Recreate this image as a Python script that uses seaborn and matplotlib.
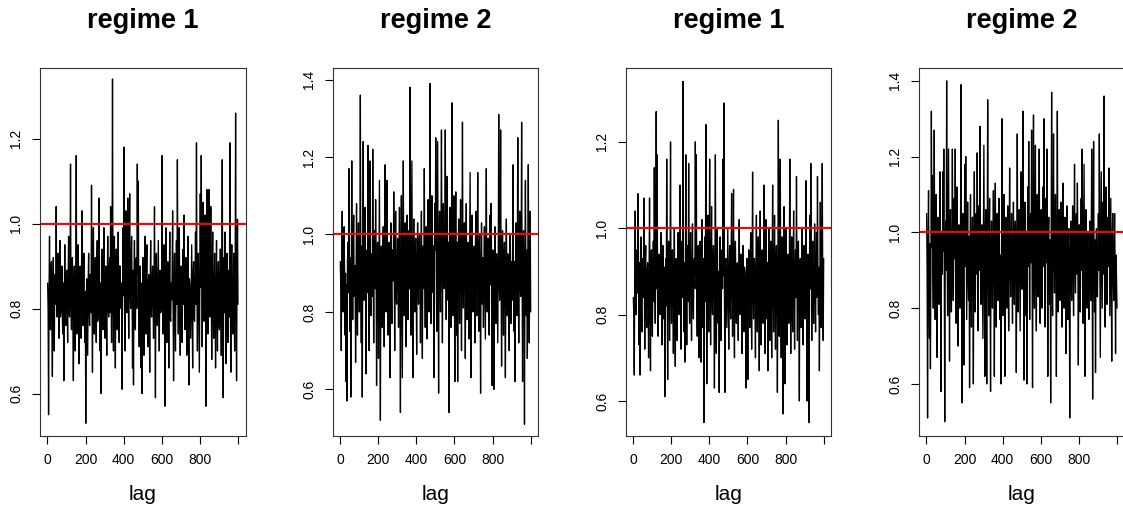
import numpy as np
import matplotlib
matplotlib.use("Agg")
import matplotlib.pyplot as plt
import seaborn as sns

# ---- data (~2.5 lags per value) ----
titles = ["regime 1", "regime 2", "regime 1", "regime 2"]

series_1 = [
    0.86, 0.80, 0.55, 0.84, 0.97, 0.78, 0.75, 0.88, 0.91, 0.77, 0.64, 0.85, 0.92, 0.79, 0.70, 0.87, 0.88, 0.81, 1.04, 0.83,
    0.78, 0.86, 0.93, 0.80, 0.73, 0.89, 0.96, 0.78, 0.80, 0.84, 0.90, 0.77, 0.74, 0.86, 0.63, 0.82, 0.95, 0.79, 0.76, 0.88,
    0.89, 0.80, 0.72, 0.87, 0.97, 0.79, 0.78, 0.85, 1.14, 0.81, 0.75, 0.88, 0.92, 0.77, 0.63, 0.84, 0.90, 0.78, 0.70, 0.86,
    1.16, 0.79, 0.74, 0.89, 0.95, 0.80, 0.67, 0.83, 0.90, 0.76, 0.73, 0.87, 1.03, 0.81, 0.76, 0.85, 0.93, 0.78, 0.72, 0.84,
    0.53, 0.82, 0.87, 0.77, 0.69, 0.86, 0.93, 0.80, 0.76, 0.88, 0.88, 0.79, 1.09, 0.83, 0.65, 0.87, 0.99, 0.78, 0.74, 0.85,
    0.92, 0.80, 0.72, 0.88, 0.96, 0.77, 0.79, 0.84, 1.06, 0.81, 0.70, 0.86, 0.60, 0.83, 0.94, 0.78, 0.75, 0.89, 0.99, 0.80,
    0.73, 0.86, 0.90, 0.78, 0.69, 0.85, 0.97, 0.81, 0.78, 0.88, 0.92, 0.79, 1.04, 0.84, 0.72, 0.87, 1.34, 0.82, 0.70, 0.86,
    0.97, 0.80, 0.66, 0.89, 0.94, 0.79, 0.75, 0.87, 0.98, 0.82, 0.72, 0.90, 0.90, 0.81, 0.80, 0.86, 0.61, 0.84, 0.99, 0.83,
    1.18, 0.85, 0.70, 0.92, 1.03, 0.83, 0.79, 0.90, 1.06, 0.86, 0.73, 0.93, 1.07, 0.84, 0.80, 0.91, 0.97, 0.85, 0.66, 0.89,
    0.62, 0.87, 0.96, 0.82, 0.75, 0.90, 0.92, 0.80, 1.14, 0.88, 1.10, 0.83, 0.71, 0.89, 0.90, 0.79, 0.66, 0.86, 0.60, 0.84,
    0.92, 0.80, 0.69, 0.87, 0.97, 0.81, 0.74, 0.88, 0.95, 0.78, 0.71, 0.86, 0.88, 0.80, 0.65, 0.85, 0.96, 0.79, 0.78, 0.87,
    0.90, 0.81, 0.73, 0.86, 1.04, 0.80, 0.59, 0.88, 0.93, 0.78, 0.76, 0.85, 0.96, 0.82, 0.70, 0.87, 0.89, 0.79, 0.80, 0.84,
    1.16, 0.83, 0.74, 0.88, 0.95, 0.80, 0.57, 0.86, 0.99, 0.79, 0.72, 0.87, 0.91, 0.81, 0.66, 0.85, 0.98, 0.78, 0.77, 0.86,
    0.82, 0.88, 1.03, 0.80, 0.63, 0.84, 0.93, 0.79, 0.70, 0.87, 0.96, 0.81, 1.15, 0.85, 0.74, 0.88, 0.99, 0.80, 0.69, 0.84,
    0.90, 0.79, 0.72, 0.86, 0.94, 0.81, 1.02, 0.84, 0.75, 0.88, 0.92, 0.78, 0.69, 0.85, 0.97, 0.80, 0.62, 0.87, 0.86, 0.79,
    0.73, 0.85, 0.95, 0.80, 0.66, 0.88, 0.91, 0.78, 0.77, 0.86, 0.98, 0.81, 1.19, 0.84, 0.70, 0.87, 0.93, 0.79, 0.65, 0.86,
    1.07, 0.85, 1.16, 0.90, 0.71, 0.88, 1.05, 0.83, 0.77, 0.91, 1.02, 0.86, 0.57, 0.89, 1.08, 0.84, 0.74, 0.92, 1.08, 0.87,
    0.78, 0.90, 1.04, 0.83, 0.68, 0.88, 0.98, 0.81, 0.73, 0.86, 0.93, 0.79, 0.66, 0.85, 0.96, 0.80, 0.70, 0.87, 0.91, 0.78,
    0.75, 0.86, 0.94, 0.80, 0.69, 0.88, 1.15, 0.82, 0.59, 0.85, 0.92, 0.79, 0.98, 0.84, 0.67, 0.87, 0.93, 0.80, 0.72, 0.86,
    0.89, 0.78, 1.19, 0.84, 0.65, 0.88, 0.95, 0.80, 0.74, 0.86, 0.93, 0.79, 0.70, 0.85, 1.26, 0.82, 0.63, 0.87, 1.01, 0.81,
]

series_2 = [
    0.93, 0.86, 0.70, 0.92, 1.06, 0.84, 0.80, 0.95, 1.02, 0.88, 0.74, 0.90, 0.62, 0.87, 0.57, 0.93, 0.98, 0.85, 1.17, 0.91,
    0.75, 0.94, 0.58, 0.86, 1.19, 0.90, 0.78, 0.96, 1.05, 0.84, 0.85, 0.92, 0.67, 0.88, 1.08, 0.83, 0.74, 0.95, 1.03, 0.87,
    0.80, 0.93, 1.36, 0.86, 0.72, 0.97, 0.58, 0.89, 1.24, 0.84, 0.83, 0.94, 1.07, 0.88, 0.64, 0.91, 0.96, 0.85, 1.23, 0.92,
    0.70, 0.95, 1.19, 0.87, 0.79, 0.93, 0.95, 0.84, 1.22, 0.90, 0.72, 0.96, 1.01, 0.86, 1.09, 0.92, 0.61, 0.89, 0.98, 0.85,
    0.68, 0.93, 1.14, 0.86, 0.52, 0.90, 0.97, 0.84, 0.76, 0.95, 1.02, 0.88, 0.71, 0.92, 1.18, 0.85, 0.80, 0.94, 1.14, 0.87,
    0.74, 0.91, 0.98, 0.84, 0.63, 0.93, 1.03, 0.86, 0.77, 0.96, 0.95, 0.88, 1.11, 0.90, 0.70, 0.94, 1.06, 0.85, 0.82, 0.92,
    0.99, 0.87, 0.76, 0.95, 1.07, 0.86, 0.54, 0.91, 1.10, 0.88, 0.63, 0.93, 1.19, 0.84, 0.79, 0.96, 1.03, 0.89, 0.71, 0.92,
    1.05, 0.88, 0.78, 0.95, 1.01, 0.86, 1.38, 0.92, 0.74, 0.97, 1.19, 0.90, 0.63, 0.94, 1.04, 0.87, 0.80, 0.96, 0.99, 0.89,
    0.69, 0.93, 1.03, 0.87, 0.82, 0.97, 1.00, 0.89, 0.72, 0.95, 1.06, 0.88, 0.68, 0.94, 0.97, 0.86, 1.17, 0.92, 0.76, 0.96,
    1.02, 0.90, 0.73, 0.98, 1.09, 0.92, 0.80, 1.00, 1.39, 0.94, 0.77, 0.99, 1.10, 0.91, 0.85, 0.97, 0.63, 0.93, 1.08, 0.96,
    1.25, 0.92, 0.75, 1.00, 1.24, 0.94, 0.59, 0.97, 1.06, 0.90, 0.80, 0.99, 1.27, 0.93, 0.72, 0.98, 1.08, 0.91, 0.86, 0.96,
    1.27, 0.94, 0.78, 1.01, 1.15, 0.92, 0.83, 0.98, 0.54, 0.95, 1.07, 0.90, 0.76, 0.99, 1.34, 0.93, 0.79, 0.97, 1.10, 0.91,
    0.62, 0.96, 1.11, 0.90, 0.74, 0.98, 0.62, 0.93, 1.04, 0.89, 0.77, 0.97, 1.09, 0.91, 0.70, 0.95, 1.29, 0.92, 0.81, 0.97,
    1.03, 0.90, 0.68, 0.96, 1.08, 0.88, 0.78, 0.95, 0.98, 0.91, 0.73, 0.97, 1.16, 0.89, 0.63, 0.94, 1.05, 0.87, 0.80, 0.96,
    0.97, 0.88, 0.72, 0.95, 1.06, 0.86, 0.79, 0.93, 1.16, 0.90, 0.75, 0.96, 1.00, 0.87, 0.59, 0.92, 1.03, 0.85, 0.82, 0.94,
    0.76, 0.91, 1.02, 0.86, 0.73, 0.95, 1.17, 0.88, 0.80, 0.93, 0.99, 0.85, 0.74, 0.92, 1.05, 0.87, 1.08, 0.94, 0.61, 0.89,
    0.96, 0.85, 0.60, 0.92, 1.02, 0.87, 0.77, 0.95, 0.95, 0.84, 0.72, 0.93, 1.31, 0.89, 0.83, 0.96, 1.27, 0.88, 0.66, 0.91,
    1.01, 0.86, 0.74, 0.94, 0.98, 0.85, 0.63, 0.92, 1.04, 0.88, 0.79, 0.95, 0.94, 0.84, 0.70, 0.91, 1.00, 0.87, 0.77, 0.93,
    0.83, 0.95, 1.18, 0.88, 0.75, 0.93, 0.62, 0.86, 1.03, 0.91, 0.79, 0.96, 1.25, 0.89, 0.72, 0.94, 1.06, 0.87, 0.84, 0.92,
    1.29, 0.90, 0.62, 0.95, 1.01, 0.88, 0.51, 0.93, 1.14, 0.86, 0.79, 0.96, 0.68, 0.91, 1.18, 0.89, 0.72, 0.94, 1.06, 0.80,
]

series_3 = [
    0.84, 0.80, 0.66, 0.88, 1.04, 0.83, 0.80, 0.91, 0.95, 0.85, 1.08, 0.89, 0.73, 0.92, 0.66, 0.86, 0.98, 0.82, 0.76, 0.90,
    0.93, 0.84, 1.07, 0.88, 0.72, 0.92, 0.96, 0.83, 0.77, 0.90, 0.92, 0.85, 0.70, 0.89, 1.07, 0.84, 0.67, 0.91, 0.95, 0.86,
    0.75, 0.90, 0.97, 0.83, 1.14, 0.88, 0.78, 0.93, 1.27, 0.86, 1.17, 0.82, 0.75, 0.90, 0.94, 0.84, 0.80, 0.92, 0.99, 0.85,
    0.73, 0.89, 0.96, 0.83, 0.79, 0.91, 0.61, 0.86, 0.93, 0.82, 1.16, 0.88, 0.65, 0.92, 0.97, 0.84, 0.74, 0.90, 1.20, 0.86,
    0.78, 0.91, 0.95, 0.83, 0.71, 0.89, 1.00, 0.85, 0.68, 0.92, 0.93, 0.84, 0.74, 0.90, 0.99, 0.82, 0.80, 0.88, 1.10, 0.86,
    0.72, 0.90, 0.97, 0.84, 1.34, 0.88, 0.76, 0.92, 0.69, 0.85, 1.17, 0.89, 0.73, 0.91, 0.96, 0.83, 1.15, 0.87, 0.78, 0.93,
    0.99, 0.85, 0.74, 0.90, 1.01, 0.84, 0.79, 0.92, 0.93, 0.86, 1.20, 0.89, 1.17, 0.83, 0.75, 0.91, 0.96, 0.85, 0.70, 0.88,
    0.97, 0.84, 0.69, 0.91, 1.02, 0.86, 0.77, 0.93, 0.55, 0.88, 0.98, 0.83, 1.24, 0.90, 0.64, 0.87, 1.03, 0.85, 0.76, 0.92,
    1.16, 0.86, 0.73, 0.91, 1.05, 0.84, 0.80, 0.93, 0.96, 0.87, 0.63, 0.89, 1.17, 0.85, 0.71, 0.92, 1.00, 0.84, 0.78, 0.90,
    0.62, 0.88, 0.98, 0.83, 0.74, 0.91, 0.95, 0.86, 1.16, 0.89, 1.29, 0.85, 0.62, 0.92, 0.93, 0.84, 0.77, 0.90, 1.00, 0.86,
    0.72, 0.89, 0.96, 0.84, 0.79, 0.92, 1.08, 0.86, 0.75, 0.90, 1.09, 0.83, 0.70, 0.91, 0.97, 0.85, 0.78, 0.88, 0.92, 0.84,
    0.74, 0.89, 1.02, 0.85, 0.80, 0.92, 0.94, 0.84, 0.71, 0.90, 0.96, 0.86, 0.76, 0.91, 0.90, 0.83, 0.63, 0.88, 0.93, 0.85,
    0.65, 0.90, 0.95, 0.84, 0.77, 0.92, 0.99, 0.86, 0.72, 0.89, 1.13, 0.85, 0.79, 0.93, 0.93, 0.84, 0.70, 0.90, 1.03, 0.87,
    0.76, 0.91, 0.98, 0.85, 0.67, 0.89, 1.04, 0.84, 0.73, 0.92, 0.95, 0.86, 0.78, 0.90, 1.10, 0.83, 0.71, 0.91, 1.02, 0.87,
    0.79, 0.92, 0.67, 0.86, 1.00, 0.84, 0.74, 0.90, 0.97, 0.85, 0.70, 0.91, 1.10, 0.86, 0.76, 0.89, 1.03, 0.84, 0.72, 0.92,
    0.96, 0.85, 0.62, 0.90, 1.25, 0.87, 0.75, 0.92, 1.16, 0.84, 0.70, 0.89, 0.98, 0.86, 0.57, 0.91, 1.05, 0.83, 0.64, 0.88,
    1.00, 0.85, 0.73, 0.91, 0.94, 0.84, 0.78, 0.90, 1.16, 0.86, 0.71, 0.92, 0.98, 0.83, 0.76, 0.89, 1.04, 0.85, 0.72, 0.90,
    0.95, 0.84, 1.12, 0.88, 0.74, 0.92, 0.97, 0.85, 0.60, 0.90, 0.93, 0.83, 0.77, 0.91, 1.00, 0.86, 0.73, 0.89, 0.96, 0.84,
    0.79, 0.90, 1.11, 0.85, 0.60, 0.92, 0.94, 0.84, 0.55, 0.88, 1.03, 0.86, 1.15, 0.90, 0.74, 0.91, 0.97, 0.83, 0.78, 0.89,
    1.01, 0.85, 0.76, 0.92, 0.99, 0.84, 1.12, 0.89, 0.80, 0.91, 0.67, 0.86, 1.06, 0.83, 0.77, 0.90, 1.15, 0.87, 0.74, 0.93,
]

series_4 = [
    1.05, 0.90, 0.51, 0.95, 1.11, 0.88, 0.72, 0.97, 0.64, 0.92, 1.32, 0.96, 1.15, 0.89, 0.80, 0.99, 1.27, 0.91, 0.77, 0.98,
    1.10, 0.90, 0.67, 0.96, 1.04, 0.88, 0.81, 0.99, 1.16, 0.93, 0.58, 0.97, 1.00, 0.89, 1.16, 0.95, 1.22, 0.91, 0.50, 0.94,
    1.03, 0.90, 1.40, 0.96, 0.78, 0.99, 1.22, 0.92, 0.66, 0.97, 1.06, 0.88, 0.79, 0.95, 1.22, 0.91, 0.82, 0.98, 1.09, 0.93,
    1.22, 0.89, 0.76, 0.97, 1.12, 0.92, 0.70, 0.99, 1.02, 0.88, 0.80, 0.96, 1.39, 0.93, 0.55, 0.98, 1.05, 0.90, 0.65, 0.95,
    1.18, 0.91, 1.20, 0.97, 0.77, 0.94, 1.08, 0.89, 0.82, 0.99, 0.59, 0.93, 1.10, 0.88, 0.75, 0.96, 1.04, 0.91, 0.60, 0.98,
    1.16, 0.92, 0.79, 0.99, 1.05, 0.89, 1.21, 0.95, 0.74, 0.97, 1.07, 0.90, 1.28, 0.94, 0.81, 0.99, 1.02, 0.88, 0.72, 0.96,
    1.23, 0.91, 0.62, 0.97, 1.06, 0.89, 0.60, 0.95, 1.35, 0.92, 0.78, 0.99, 1.09, 0.88, 0.58, 0.96, 1.03, 0.90, 0.80, 0.98,
    1.11, 0.92, 0.62, 0.97, 1.13, 0.89, 0.75, 0.99, 1.05, 0.91, 0.82, 0.96, 1.09, 0.88, 0.77, 0.94, 0.60, 0.90, 1.30, 0.95,
    0.78, 0.98, 1.10, 0.89, 0.62, 0.95, 1.04, 0.91, 0.80, 0.99, 1.07, 0.88, 0.74, 0.96, 1.17, 0.92, 0.83, 0.97, 1.05, 0.90,
    0.76, 0.95, 1.08, 0.89, 0.81, 0.98, 1.03, 0.91, 0.63, 0.96, 1.26, 0.93, 0.79, 0.99, 1.06, 0.88, 0.74, 0.97, 1.16, 0.92,
    0.85, 0.98, 1.32, 0.93, 0.61, 0.99, 1.08, 0.90, 0.78, 1.00, 0.60, 0.94, 1.12, 0.91, 1.24, 0.97, 0.77, 0.99, 1.05, 0.92,
    1.27, 0.95, 0.59, 1.00, 1.31, 0.93, 0.80, 0.99, 1.23, 0.91, 0.74, 0.98, 1.10, 0.94, 0.83, 1.00, 1.22, 0.92, 0.76, 0.97,
    1.06, 0.93, 0.80, 0.99, 1.12, 0.91, 1.30, 0.97, 0.75, 1.00, 1.09, 0.92, 1.22, 0.96, 0.62, 0.99, 1.04, 0.90, 0.81, 0.98,
    0.55, 0.95, 1.37, 0.92, 0.78, 1.00, 1.26, 0.94, 0.84, 0.98, 1.10, 0.91, 0.62, 0.97, 1.32, 0.93, 0.79, 0.99, 1.06, 0.90,
    0.82, 0.96, 1.08, 0.89, 0.75, 0.95, 1.13, 0.91, 0.80, 0.98, 1.04, 0.88, 0.68, 0.94, 1.07, 0.90, 0.77, 0.97, 1.01, 0.89,
    0.51, 0.93, 1.03, 0.88, 0.82, 0.96, 1.07, 0.90, 0.78, 0.98, 1.18, 0.92, 0.84, 0.97, 1.05, 0.89, 1.13, 0.95, 0.65, 0.91,
    1.02, 0.88, 0.79, 0.96, 1.09, 0.90, 1.22, 0.94, 0.76, 0.98, 1.18, 0.89, 0.62, 0.95, 1.06, 0.91, 0.80, 0.97, 1.00, 0.88,
    0.77, 0.94, 1.03, 0.89, 0.82, 0.97, 1.22, 0.92, 0.56, 0.96, 1.24, 0.90, 0.79, 0.98, 0.63, 0.93, 1.01, 0.88, 0.83, 0.95,
    1.05, 0.90, 1.26, 0.96, 0.67, 0.92, 1.16, 0.98, 0.80, 0.94, 1.08, 0.89, 1.36, 0.97, 0.75, 0.93, 1.12, 0.90, 0.81, 0.99,
    1.04, 0.91, 1.17, 0.96, 0.78, 0.93, 1.09, 0.89, 0.66, 0.97, 1.05, 0.90, 0.82, 0.95, 1.05, 0.92, 0.68, 0.94, 0.88, 0.80,
]

series = [series_1, series_2, series_3, series_4]
reference_level = 1.0
x_ticks = [0, 200, 400, 600, 800, 1000]
x_tick_labels = ["0", "200", "400", "600", "800", ""]
y_ticks = [[0.6, 0.8, 1.0, 1.2], [0.6, 0.8, 1.0, 1.2, 1.4],
           [0.6, 0.8, 1.0, 1.2], [0.6, 0.8, 1.0, 1.2, 1.4]]
y_limits = [(0.500, 1.366), (0.4795, 1.430), (0.519, 1.371), (0.4625, 1.434)]
x_label = "lag"

# ---- style ----
sns.set_theme(style="white")
plt.rcParams["font.family"] = ["Liberation Sans", "DejaVu Sans"]

W, H = 1123, 508
fig = plt.figure(figsize=(W / 100, H / 100), dpi=100)
fig.patch.set_facecolor("white")

lefts = [40, 332.7, 625.7, 919]
ax_w = 205.6
top_px, bottom_px = 68, 436

for k in range(4):
    ax = fig.add_axes([lefts[k] / W, (H - bottom_px) / H, ax_w / W, (bottom_px - top_px) / H])
    vals = np.asarray(series[k])
    lag = np.linspace(1, 1000, len(vals))
    sns.lineplot(x=lag, y=vals, ax=ax, color="black", linewidth=0.95,
                 estimator=None, sort=False)
    ax.axhline(reference_level, color="#ff0000", linewidth=1.5)
    ax.set_xlim(-38.96, 1039.96)
    ax.set_ylim(*y_limits[k])
    ax.set_xticks(x_ticks)
    ax.set_xticklabels(x_tick_labels)
    ax.set_yticks(y_ticks[k])
    ax.set_yticklabels([f"{v:.1f}" for v in y_ticks[k]], rotation=90, va="center")
    ax.tick_params(axis="both", direction="out", length=6, width=0.8,
                   color="black", labelsize=10, pad=6, labelcolor="black",
                   bottom=True, left=True)
    for s in ax.spines.values():
        s.set_visible(True)
        s.set_color("#333333")
        s.set_linewidth(0.8)
    ax.set_xlabel(x_label, fontsize=15, labelpad=13, color="black")
    ax.set_ylabel("")
    ax.set_title(titles[k], fontsize=19.5, fontweight="bold", pad=29, color="black")
    ax.grid(False)

fig.savefig("out.png", dpi=100, facecolor="white")
